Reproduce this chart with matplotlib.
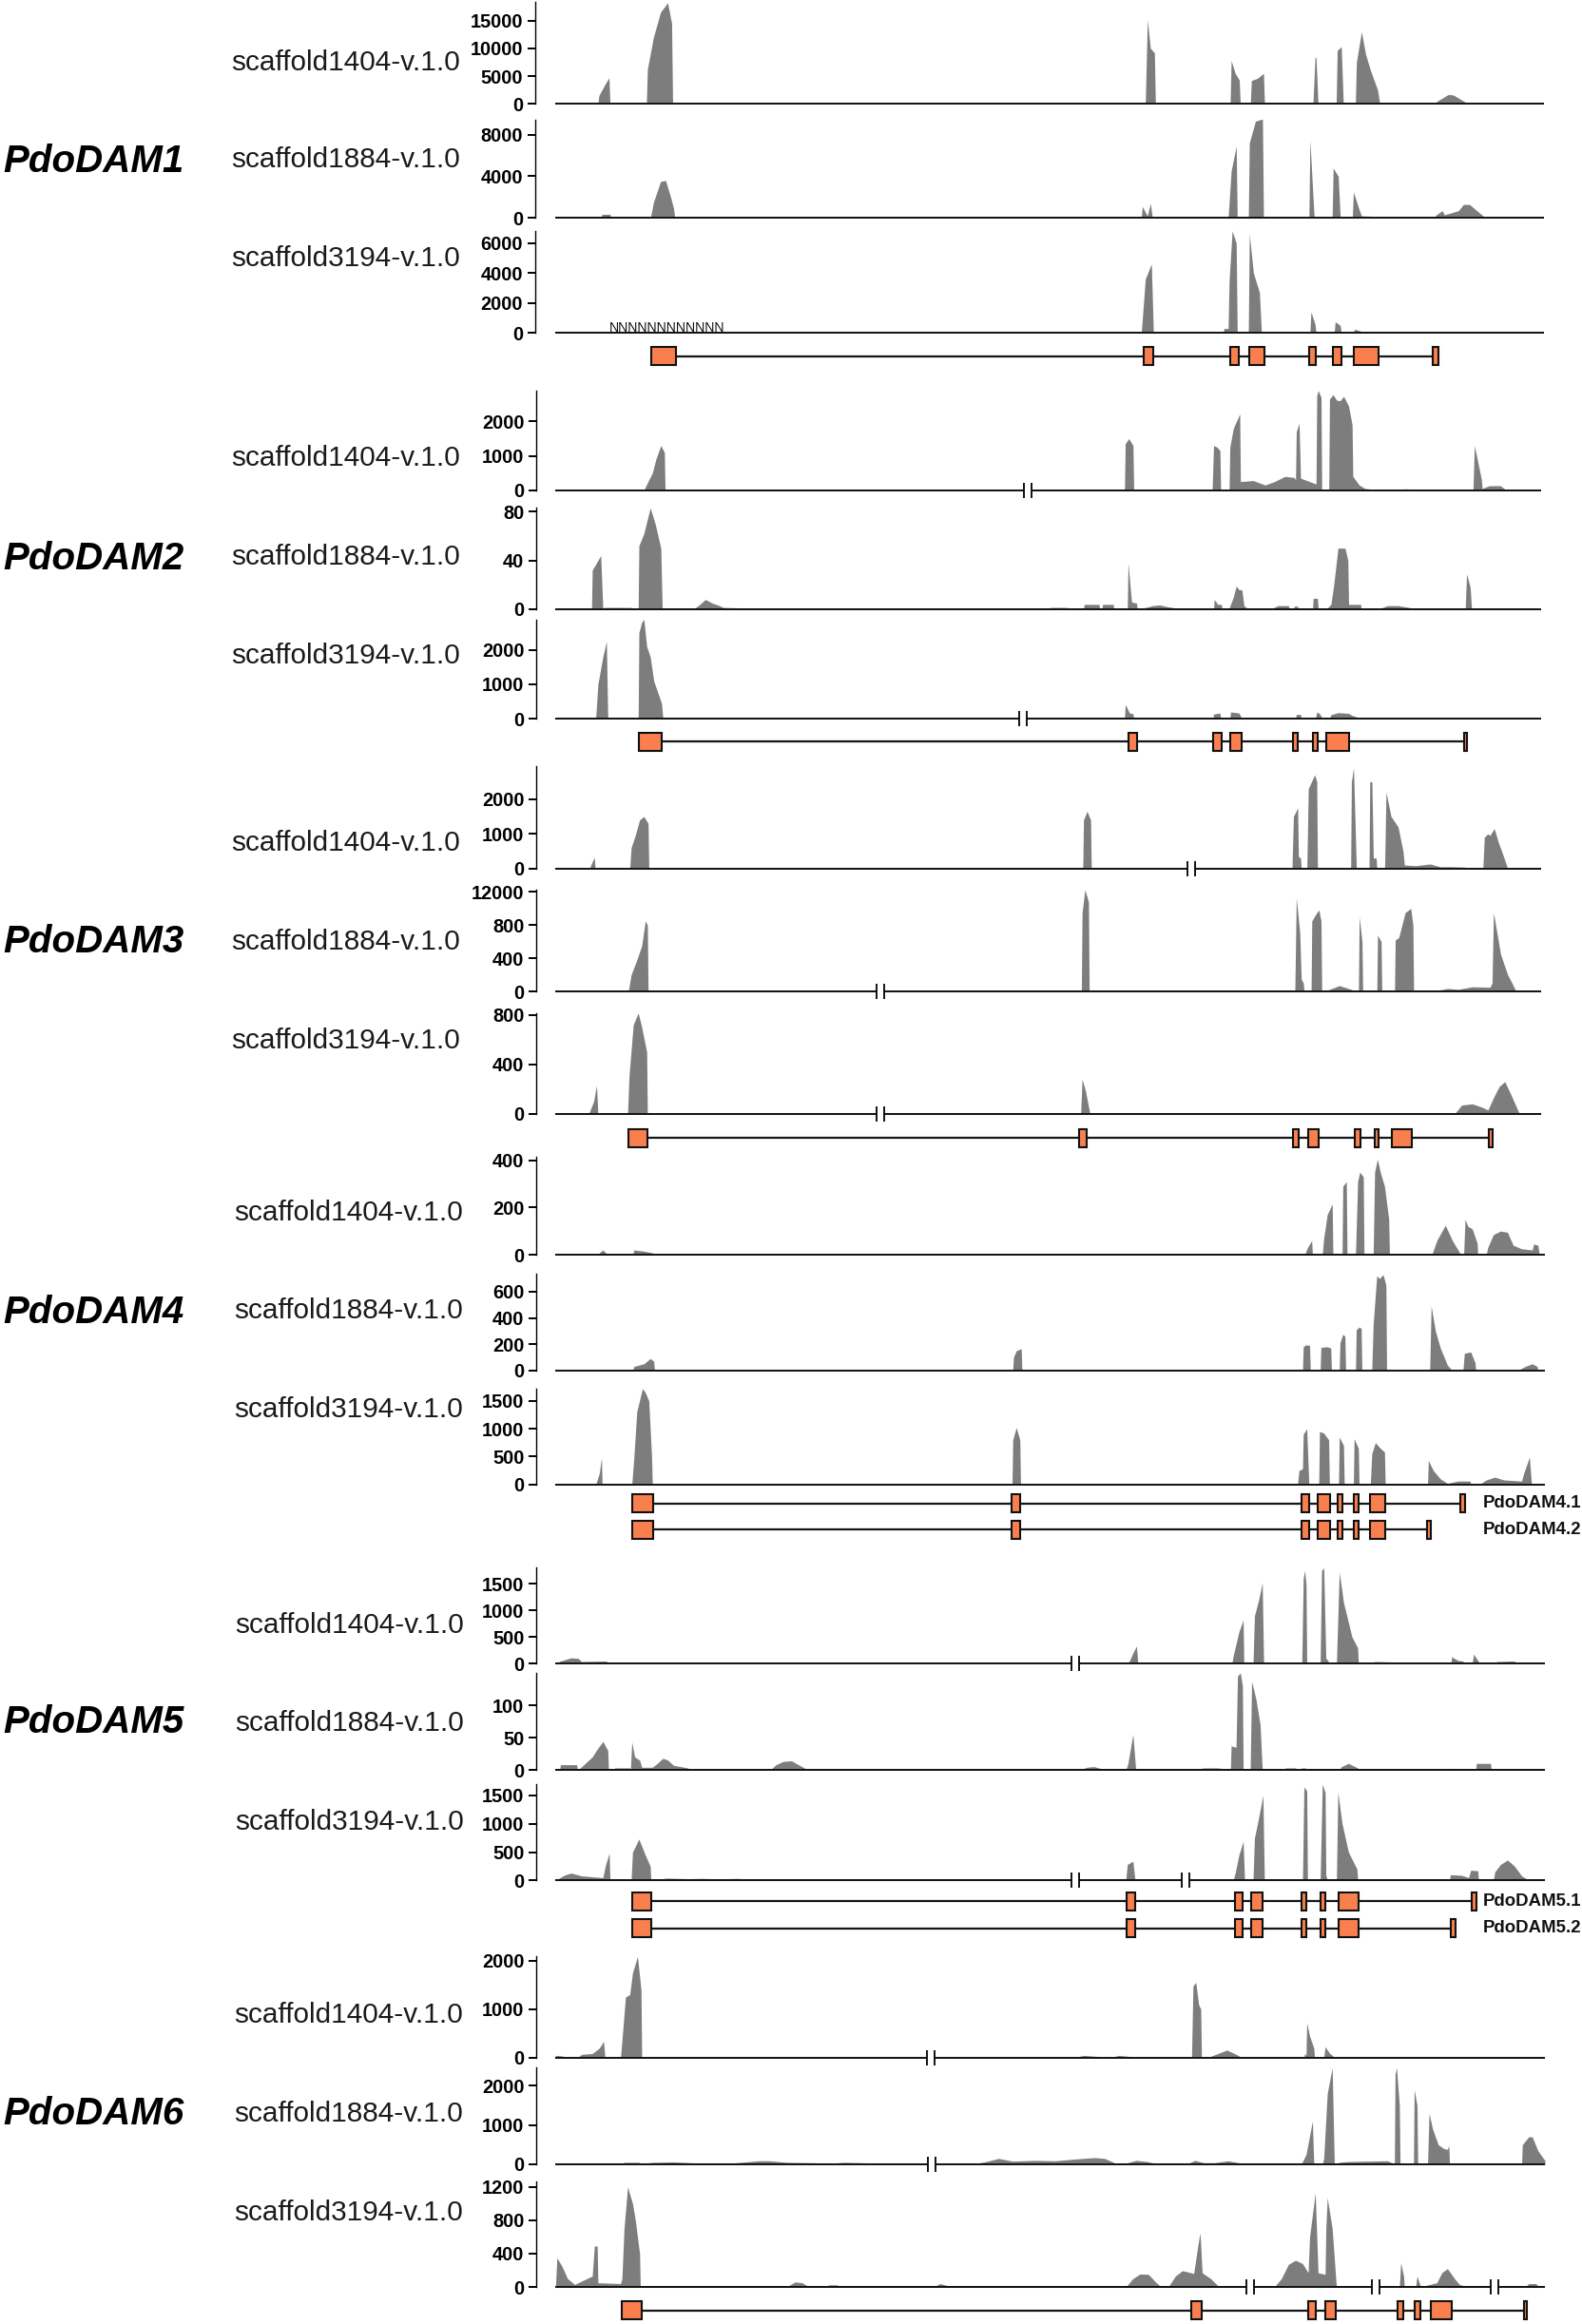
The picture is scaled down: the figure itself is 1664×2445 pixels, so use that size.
import matplotlib
matplotlib.use('Agg')
import matplotlib.pyplot as plt
import numpy as np
from matplotlib.patches import Rectangle

plt.rcParams['font.family'] = ['Liberation Sans', 'DejaVu Sans']

W, H = 1665, 2445

scaffolds = ['scaffold1404-v.1.0', 'scaffold1884-v.1.0', 'scaffold3194-v.1.0']
gene_names = ['PdoDAM1', 'PdoDAM2', 'PdoDAM3', 'PdoDAM4', 'PdoDAM5', 'PdoDAM6']

# coverage profiles, (position, coverage)
dam1_s1404 = [(593,0),(594,1500),(600,3500),(604,4700),(605,0),(641,0),(642,6200),(648,12000),(655,16500),(662,18200),(666,14500),(667,0),
    (1135,0),(1137,15200),(1140,10000),(1144,9200),(1145,0),(1215,0),(1216,100),(1219,100),(1220,7800),(1224,5500),(1228,4300),(1229,0),
    (1239,0),(1240,4200),(1246,4600),(1252,5500),(1253,0),(1301,0),(1303,8300),(1304,8400),(1306,0),(1324,0),(1325,9600),(1329,10300),(1331,200),(1340,100),
    (1343,0),(1344,7500),(1349,13000),(1353,9000),(1358,6000),(1365,2500),(1367,100),(1380,100),(1381,0),(1421,0),(1424,500),(1435,1700),(1440,1600),(1452,300),(1465,300),(1483,300),(1497,100),(1498,0)]
dam1_s1884 = [(596,0),(597,350),(605,350),(606,0),(645,0),(648,1500),(655,3500),(660,3600),(665,2000),(668,900),(669,100),(672,100),(673,0),
    (1131,0),(1132,1100),(1137,200),(1140,1400),(1142,0),(1217,0),(1220,4500),(1225,6900),(1226,0),(1237,0),(1238,7200),(1244,9300),(1251,9500),(1252,0),
    (1297,0),(1298,7500),(1302,300),(1303,0),(1320,0),(1321,4800),(1326,4000),(1328,0),(1340,0),(1341,2500),(1346,1000),(1349,200),(1365,150),(1366,0),
    (1421,0),(1423,300),(1429,700),(1431,300),(1445,700),(1450,1300),(1456,1300),(1462,800),(1470,150),(1473,0)]
dam1_s3194 = [(1131,0),(1135,3600),(1141,4600),(1143,0),(1212,0),(1213,300),(1217,300),(1218,3500),(1221,6800),(1225,6000),(1226,0),
    (1237,0),(1238,6600),(1242,4000),(1248,2700),(1250,0),(1298,0),(1299,1400),(1303,600),(1304,0),(1322,0),(1323,750),(1328,500),(1329,0),(1341,0),(1342,250),(1352,50),(1353,0)]

dam2_s1404 = [(238,0),(245,300),(250,500),(255,900),(262,1300),(267,1100),(268,0),(790,0),(795,30),(875,30),(876,0),(918,0),(919,1350),(924,1500),(930,1300),(931,0),
    (1042,0),(1044,1300),(1049,1250),(1053,1150),(1054,0),(1066,0),(1067,1250),(1072,1800),(1081,2220),(1082,250),(1100,280),(1117,150),(1130,250),(1145,400),(1158,370),
    (1160,300),(1161,1700),(1165,1950),(1167,350),(1189,180),(1190,2750),(1192,2900),(1196,2700),(1197,0),(1207,0),(1208,2650),(1213,2780),(1218,2620),(1223,2600),(1228,2730),(1235,2450),(1240,1900),(1241,400),(1250,150),(1258,50),(1275,10),
    (1300,10),(1315,40),(1340,10),(1355,30),(1405,30),(1411,0),(1413,1300),(1418,800),(1423,300),(1424,50),(1434,130),(1450,130),(1458,0)]
dam2_s1884 = [(164,0),(165,32),(170,37),(177,44),(180,0),(182,1.5),(220,1.5),(221,0),(230,0),(231,52),(238,62),(247,83),(254,70),(262,50),(264,0),
    (308,0),(315,3),(325,8),(335,5),(345,3),(350,1.5),(380,1),(381,0),(790,0),(791,1),(800,1),(801,0),(812,0),(813,1.5),(837,1.5),(838,0),
    (860,0),(861,4),(882,4),(883,0),(886,0),(887,4),(902,4),(903,0),(922,0),(923,38),(927,12),(928,6),(935,5),(936,0),(948,1.5),(958,3),(968,3.5),(980,2),(990,1),(991,0),
    (1044,0),(1045,8),(1050,4),(1055,4),(1056,0),(1066,1),(1072,10),(1076,19),(1080,16),(1084,16),(1087,3),(1091,1),(1092,0),
    (1128,1),(1135,3),(1150,3),(1151,0),(1157,0),(1158,2.5),(1163,2.5),(1164,0),(1184,0),(1185,9),(1191,9),(1192,0),
    (1205,1),(1210,4),(1214,20),(1220,50),(1230,50),(1234,40),(1235,4),(1252,4),(1253,0),(1281,1),(1290,3),(1305,3),(1325,1),(1326,0),(1400,0),(1402,29),(1407,18),(1409,0)]
dam2_s3194 = [(165,0),(170,50),(173,1000),(180,1800),(185,2250),(187,0),(230,0),(231,2500),(235,2800),(238,2880),(242,2100),(247,1800),(252,1100),(263,450),(265,0),
    (640,0),(650,20),(670,20),(671,0),(918,0),(919,420),(925,170),(930,150),(931,0),(1043,0),(1044,140),(1053,170),(1054,0),(1067,0),(1068,200),(1080,170),(1084,0),
    (1160,0),(1161,130),(1167,130),(1168,0),(1188,0),(1190,200),(1194,150),(1197,40),(1198,0),(1208,0),(1210,120),(1220,180),(1235,160),(1240,100),(1250,30),(1258,0)]

dam3_s1404 = [(161,0),(164,150),(168,320),(169,0),(218,0),(220,600),(225,900),(232,1400),(238,1500),(244,1300),(245,0),(859,0),(860,1400),(865,1650),(870,1400),(871,0),
    (1155,0),(1157,1500),(1163,1750),(1164,350),(1167,300),(1168,0),(1176,0),(1178,2300),(1187,2700),(1190,2500),(1191,0),(1238,0),(1239,2500),(1242,2900),(1246,0),
    (1264,0),(1265,2500),(1268,2500),(1270,300),(1274,300),(1275,0),(1286,0),(1288,2200),(1295,1500),(1305,1200),(1312,500),(1314,100),(1330,80),(1350,130),(1365,50),(1380,50),(1400,40),(1402,0),
    (1425,0),(1427,900),(1432,1000),(1435,950),(1441,1150),(1447,750),(1455,300),(1460,0)]
dam3_s1884 = [(216,0),(220,200),(228,380),(235,550),(240,850),(243,800),(244,0),(857,0),(858,950),(862,1226),(867,1080),(868,0),(1159,0),(1161,1130),(1166,700),(1168,150),(1171,100),(1172,0),
    (1182,0),(1183,850),(1190,950),(1193,980),(1196,850),(1197,0),(1200,0),(1210,30),(1222,70),(1240,20),(1244,0),(1249,0),(1250,900),(1254,600),(1255,0),(1258,0),(1259,10),(1270,10),(1271,0),
    (1275,0),(1276,680),(1281,600),(1282,0),(1300,0),(1301,620),(1306,650),(1315,950),(1323,1000),(1326,800),(1327,0),(1360,10),(1375,35),(1390,25),(1410,55),(1435,50),(1438,100),(1440,950),(1445,700),(1450,450),(1460,200),(1465,120),(1472,0)]
dam3_s3194 = [(160,0),(167,100),(171,230),(173,0),(215,0),(217,300),(223,720),(230,815),(235,700),(242,500),(243,0),(856,0),(858,280),(863,180),(868,30),(869,0),
    (1385,0),(1395,70),(1410,80),(1425,50),(1432,30),(1440,130),(1448,220),(1456,260),(1465,150),(1475,20),(1477,0)]

dam4_s1404 = [(172,0),(180,20),(185,5),(200,3),(201,0),(222,0),(224,20),(238,15),(250,8),(252,0),(290,0),(295,3),(310,3),(311,0),(498,0),(503,3),(518,3),(519,0),(762,0),(763,3),(775,3),(776,0),
    (1173,0),(1177,30),(1183,60),(1184,0),(1198,0),(1200,70),(1205,170),(1212,215),(1213,0),(1226,0),(1227,290),(1232,310),(1233,0),(1245,0),(1248,310),(1251,350),(1256,330),(1257,0),
    (1270,0),(1272,350),(1276,405),(1280,350),(1286,290),(1292,150),(1293,0),(1300,0),(1301,3),(1330,3),(1331,0),(1353,0),(1360,60),(1372,125),(1382,60),(1392,10),(1393,0),
    (1398,0),(1400,150),(1404,120),(1410,110),(1417,50),(1418,0),(1430,0),(1432,30),(1440,85),(1450,100),(1460,95),(1468,40),(1480,25),(1495,20),(1497,45),(1503,40),(1505,0)]
dam4_s1884 = [(222,0),(224,30),(238,50),(247,90),(252,70),(253,0),(760,0),(761,100),(765,150),(772,165),(773,0),(1160,0),(1165,10),(1170,0),(1171,180),(1175,195),(1180,190),(1181,0),
    (1195,0),(1196,175),(1205,180),(1210,170),(1211,0),(1222,0),(1223,210),(1227,275),(1230,260),(1231,0),(1245,0),(1246,310),(1250,330),(1253,320),(1254,0),
    (1268,0),(1270,350),(1275,720),(1279,700),(1284,730),(1288,650),(1289,0),(1350,0),(1352,490),(1358,300),(1365,170),(1375,40),(1380,10),(1381,0),(1397,0),(1399,130),(1408,140),(1414,60),(1415,10),(1420,0),
    (1475,0),(1485,30),(1495,50),(1502,30),(1503,0)]
dam4_s3194 = [(170,0),(175,200),(178,480),(179,0),(221,0),(224,500),(228,1300),(236,1720),(240,1650),(245,1500),(249,500),(250,0),(759,0),(760,800),(765,1020),(770,800),(771,0),(885,0),(890,20),(915,20),(916,0),
    (1163,0),(1165,250),(1170,280),(1171,900),(1176,1000),(1179,0),(1193,0),(1194,950),(1200,920),(1207,800),(1208,0),(1221,0),(1222,850),(1228,700),(1229,0),(1242,0),(1243,820),(1249,650),(1250,0),
    (1266,0),(1268,550),(1273,750),(1280,650),(1286,580),(1287,0),(1347,0),(1348,430),(1355,250),(1365,100),(1375,20),(1390,60),(1407,60),(1408,0),(1420,0),(1430,80),(1442,130),(1455,80),(1480,60),(1483,200),(1491,490),(1494,0)]

dam5_s1404 = [(113,0),(120,50),(135,110),(145,100),(150,40),(185,50),(187,0),(220,0),(222,30),(247,25),(248,0),(921,0),(925,50),(930,200),(935,330),(937,0),
    (1070,0),(1072,150),(1080,600),(1086,820),(1087,0),(1100,0),(1102,900),(1108,1200),(1113,1520),(1115,0),(1169,0),(1171,1600),(1173,1750),(1175,1500),(1176,0),
    (1195,0),(1197,1750),(1200,1800),(1203,100),(1206,60),(1207,0),(1218,0),(1222,1720),(1228,1150),(1240,500),(1248,300),(1249,0),(1265,0),(1272,40),(1340,20),(1345,0),
    (1380,0),(1381,130),(1390,60),(1397,50),(1398,0),(1410,0),(1412,180),(1419,40),(1420,0),(1442,0),(1445,40),(1470,50),(1471,0)]
dam5_s1884 = [(119,0),(120,8),(143,8),(144,0),(147,2),(155,10),(165,20),(172,32),(180,44),(187,30),(188,0),(196,0),(197,3),(218,3),(219,0),(221,43),(225,20),(232,15),(235,4),(250,4),(257,10),(265,18),(272,15),(280,7),(300,3),(305,0),
    (417,0),(425,8),(435,13),(447,14),(455,9),(465,3),(470,0),(855,0),(865,4),(875,5),(888,1),(890,0),(892,1.5),(915,1.5),(920,0),(923,10),(930,55),(934,0),(980,0),(981,2),(998,2),(999,0),
    (1020,1),(1030,3),(1050,3),(1065,1),(1068,0),(1069,37),(1076,35),(1078,145),(1082,150),(1085,130),(1086,1),(1096,0),(1098,137),(1104,110),(1110,70),(1113,1),(1130,1),(1131,0),
    (1145,0),(1146,3),(1160,3),(1161,0),(1168,0),(1169,3),(1174,3),(1175,0),(1222,0),(1225,5),(1235,10),(1248,3),(1250,0),(1380,0),(1382,3),(1384,0),(1415,0),(1416,10),(1436,10),(1437,0)]
dam5_s3194 = [(113,0),(125,90),(135,130),(150,80),(178,50),(180,50),(184,280),(189,480),(190,20),(205,20),(206,0),(220,0),(222,500),(231,730),(240,450),(247,250),(248,0),
    (250,0),(270,40),(300,30),(320,35),(345,25),(370,35),(390,20),(420,10),(470,25),(520,5),(521,0),(920,0),(922,280),(930,340),(933,0),(1072,0),(1075,150),(1080,450),(1086,690),(1088,0),
    (1100,0),(1102,750),(1107,1050),(1114,1500),(1116,0),(1170,0),(1172,1650),(1176,1580),(1177,0),(1195,0),(1198,1700),(1202,1550),(1203,100),(1205,0),
    (1218,0),(1220,1560),(1226,1000),(1235,500),(1247,200),(1248,0),(1265,0),(1266,20),(1338,20),(1339,0),(1378,0),(1379,100),(1395,90),(1405,50),(1408,180),(1418,170),(1419,0),
    (1440,0),(1442,150),(1450,280),(1460,360),(1470,250),(1480,80),(1488,20),(1490,0)]

dam6_s1404 = [(113,50),(123,40),(125,0),(143,0),(150,70),(165,90),(175,200),(181,340),(183,0),(205,0),(207,350),(212,1250),(218,1300),(222,1750),(229,2085),(234,1400),(235,0),
    (845,0),(860,50),(880,30),(885,0),(895,0),(910,50),(925,30),(930,0),(1013,0),(1015,1480),(1019,1550),(1023,1100),(1026,1000),(1027,0),(1035,0),(1045,60),(1063,160),(1075,80),(1085,0),
    (1172,0),(1173,90),(1175,50),(1176,720),(1180,450),(1186,200),(1187,0),(1200,0),(1202,230),(1208,100),(1216,0),(1303,0),(1304,20),(1306,20),(1307,0)]
dam6_s1884 = [(208,0),(210,50),(230,50),(238,20),(250,50),(280,60),(305,40),(350,10),(400,90),(415,90),(440,50),(480,40),(500,20),(520,50),(575,30),(580,0),
    (700,0),(720,60),(740,150),(760,80),(790,100),(820,90),(845,130),(875,170),(890,150),(905,30),(908,0),(920,30),(935,100),(950,70),(965,10),(966,0),(1005,0),(1018,100),(1030,40),(1045,40),(1065,90),(1085,20),(1086,0),
    (1168,0),(1175,250),(1184,1100),(1186,0),(1198,0),(1200,150),(1205,1800),(1212,2460),(1215,0),(1222,50),(1235,70),(1290,90),(1299,20),(1300,0),(1301,2300),(1303,2460),(1307,1500),(1308,0),
    (1327,0),(1328,1900),(1332,1500),(1333,0),(1347,0),(1349,1300),(1354,900),(1362,500),(1370,400),(1375,380),(1377,480),(1378,0),(1480,0),(1481,500),(1490,700),(1495,700),(1503,350),(1510,170),(1513,100)]
dam6_s3194 = [(113,0),(115,350),(122,250),(130,100),(140,30),(150,70),(165,130),(168,490),(172,490),(173,50),(205,40),(207,100),(210,700),(215,1200),(222,1000),(226,800),(232,400),(233,0),
    (258,0),(259,10),(270,10),(271,0),(440,0),(452,60),(462,50),(470,10),(475,0),(493,0),(500,25),(512,25),(513,0),(648,0),(657,40),(670,10),(672,0),(920,0),(930,100),(940,155),(952,150),(962,60),(970,0),
    (980,0),(990,130),(1000,195),(1012,170),(1016,160),(1022,500),(1025,650),(1028,170),(1040,100),(1052,0),(1130,0),(1140,100),(1150,270),(1160,320),(1170,280),(1178,170),(1180,600),(1188,1130),(1192,170),(1202,150),(1203,700),(1205,1070),(1212,700),(1217,100),(1218,0),
    (1307,0),(1309,290),(1313,130),(1314,0),(1330,0),(1332,130),(1336,30),(1337,0),(1350,30),(1360,50),(1367,170),(1375,220),(1385,100),(1392,30),(1400,10),(1405,0),(1485,0),(1490,40),(1500,40),(1505,0)]

# y axis tops and tick labels for every track
dam1_tops = [18400, 9430, 6780]
dam2_tops = [2903, 83, 2880]
dam3_tops = [2950, 1226, 815]
dam4_tops = [415, 737, 1722]
dam5_tops = [1803, 150, 1696]
dam6_tops = [2085, 2460, 1265]
dam1_ticks = [[0,5000,10000,15000], [0,4000,8000], [0,2000,4000,6000]]
dam2_ticks = [[0,1000,2000], [0,40,80], [0,1000,2000]]
dam3_ticks = [[0,1000,2000], [0,400,800,1200], [0,400,800]]
dam4_ticks = [[0,200,400], [0,200,400,600], [0,500,1000,1500]]
dam5_ticks = [[0,500,1000,1500], [0,50,100], [0,500,1000,1500]]
dam6_ticks = [[0,1000,2000], [0,1000,2000], [0,400,800,1200]]

# exon start/end per transcript
dam1_exons = [(646,670),(1133,1143),(1219,1228),(1238,1253),(1297,1304),(1321,1329),(1341,1366),(1420,1425)]
dam2_exons = [(231,263),(923,936),(1043,1055),(1067,1084),(1156,1163),(1184,1191),(1203,1236),(1399,1403)]
dam3_exons = [(216,243),(854,865),(1156,1165),(1178,1192),(1244,1252),(1272,1278),(1296,1324),(1433,1439)]
dam41_exons = [(221,251),(758,770),(1169,1179),(1192,1209),(1220,1227),(1243,1250),(1265,1287),(1393,1400)]
dam42_exons = [(221,251),(758,770),(1169,1179),(1192,1209),(1220,1227),(1243,1250),(1265,1287),(1346,1352)]
dam51_exons = [(221,248),(921,933),(1075,1085),(1097,1114),(1168,1175),(1195,1202),(1221,1249),(1410,1416)]
dam52_exons = [(221,248),(921,933),(1075,1085),(1097,1114),(1168,1175),(1195,1202),(1221,1249),(1380,1386)]
dam6_exons = [(207,235),(1013,1027),(1178,1189),(1202,1217),(1304,1312),(1329,1337),(1351,1381),(1483,1488)]

# scaffold gaps drawn on the baseline
dam2_breaks = [[781], [], [775]]
dam3_breaks = [[1012], [573], [573]]
dam5_breaks = [[849], [], [849, 1004]]
dam6_breaks = [[644], [645], [1096, 1274, 1442]]

COVER = '#7d7d7d'
EXON = '#F9804E'

fig = plt.figure(figsize=(W / 100, H / 100), dpi=100)


def px_axes(left, right, top, bottom):
    return fig.add_axes([left / W, 1 - bottom / H, (right - left) / W, (bottom - top) / H])


def px_text(x, y, s, **kw):
    return fig.text(x / W, 1 - y / H, s, va='center', **kw)


def draw_track(box, x0, x1, line_start, line_end, prof, top, ticks, breaks, tick_labels=None):
    ax = px_axes(box[0], box[1], box[2], box[3])
    xs, ys = np.array(prof, dtype=float).T
    ax.fill_between(xs, 0, ys, color=COVER, lw=0)
    ax.set_xlim(x0, x1)
    ax.set_ylim(0, top)
    ax.hlines(0, line_start, line_end, color='#151515', lw=1.45, clip_on=False, zorder=3)
    for s in ['top', 'right', 'bottom']:
        ax.spines[s].set_visible(False)
    ax.spines['left'].set_linewidth(1.0)
    ax.set_xticks([])
    ax.set_yticks(ticks)
    ax.set_yticklabels(tick_labels if tick_labels else [str(t) for t in ticks], fontsize=14.4, fontweight='bold')
    ax.tick_params(axis='y', length=5.8, width=1.4, pad=3.5)
    ax.patch.set_visible(False)
    # gap marks
    frac = 8.0 / (box[3] - box[2])
    tr = ax.get_xaxis_transform()
    gap = (x1 - x0) / (box[1] - box[0]) * 4
    for b in breaks:
        ax.add_patch(Rectangle((b - gap, -frac), 2 * gap, 2 * frac, transform=tr, fc='white', ec='none', clip_on=False, zorder=4))
        ax.vlines([b - gap, b + gap], -frac, frac, transform=tr, color='black', lw=1.3, clip_on=False, zorder=5)
    return ax


def draw_gene(y, left, right, x0, x1, exons, label=None):
    ax = px_axes(left, right, y - 10, y + 10)
    ax.set_xlim(x0, x1)
    ax.set_ylim(0, 1)
    ax.axis('off')
    ax.hlines(0.5, exons[0][0], exons[-1][1], color='#151515', lw=1.6, zorder=1)
    for a, b in exons:
        ax.add_patch(Rectangle((a, 0.03), b - a, 0.94, fc=EXON, ec='#111111', lw=1.5, zorder=2, clip_on=False))
    if label:
        px_text(1560, y, label, fontsize=13.4, fontweight='bold', color='#111111')


# layout: baseline, axis top of every track, gene rows, label rows, x range of the group
groups = [
    dict(name=0, xr=(531, 1530), left=563, right=1624.3, line=(551, 1530), base=[109.3, 229.3, 350.3], top=[1.7, 126, 243.3], label_x=243,
         profs=[dam1_s1404, dam1_s1884, dam1_s3194], tops=dam1_tops, ticks=dam1_ticks, breaks=[[], [], []],
         genes=[(374.6, dam1_exons, None)], labels=[65.5, 168.5, 271.5], name_y=170),
    dict(name=1, xr=(86, 1507), left=564.2, right=1620.7, line=(113, 1507), base=[515.7, 641, 756.3], top=[410.7, 534.3, 651.7], label_x=243,
         profs=[dam2_s1404, dam2_s1884, dam2_s3194], tops=dam2_tops, ticks=dam2_ticks, breaks=dam2_breaks,
         genes=[(780.3, dam2_exons, None)], labels=[482.5, 586.5, 690.5], name_y=588),
    dict(name=2, xr=(86, 1507), left=564.2, right=1620.7, line=(113, 1507), base=[913.7, 1043, 1171.7], top=[806, 936, 1065.7], label_x=243,
         profs=[dam3_s1404, dam3_s1884, dam3_s3194], tops=dam3_tops, ticks=dam3_ticks, breaks=dam3_breaks,
         genes=[(1197.3, dam3_exons, None)], labels=[887, 991, 1095], name_y=991),
    dict(name=3, xr=(86, 1513), left=564.2, right=1625, line=(113, 1513), base=[1320, 1441.7, 1561.7], top=[1217, 1340, 1460.7], label_x=246,
         profs=[dam4_s1404, dam4_s1884, dam4_s3194], tops=dam4_tops, ticks=dam4_ticks, breaks=[[], [], []],
         genes=[(1581.7, dam41_exons, 'PdoDAM4.1'), (1609.3, dam42_exons, 'PdoDAM4.2')], labels=[1276, 1379, 1483], name_y=1381),
    dict(name=4, xr=(86, 1513), left=564.2, right=1625, line=(113, 1513), base=[1750.3, 1862, 1978.3], top=[1649.3, 1760, 1877.3], label_x=247,
         profs=[dam5_s1404, dam5_s1884, dam5_s3194], tops=dam5_tops, ticks=dam5_ticks, breaks=dam5_breaks,
         genes=[(2000.3, dam51_exons, 'PdoDAM5.1'), (2028.7, dam52_exons, 'PdoDAM5.2')], labels=[1710, 1813, 1917], name_y=1812),
    dict(name=5, xr=(86, 1513), left=564.2, right=1625, line=(113, 1513), base=[2165, 2277, 2406], top=[2058.3, 2175.3, 2295], label_x=246,
         profs=[dam6_s1404, dam6_s1884, dam6_s3194], tops=dam6_tops, ticks=dam6_ticks, breaks=dam6_breaks,
         genes=[(2430.5, dam6_exons, None)], labels=[2120, 2224, 2328], name_y=2224),
]

for g_idx, g in enumerate(groups):
    x0, x1 = g['xr']
    for t in range(3):
        lab = None
        if g_idx == 2 and t == 1:
            lab = ['0', '400', '800', '12000']  # the figure really prints 12000 here
        draw_track((g['left'], g['right'], g['top'][t], g['base'][t]), x0, x1, g['line'][0], g['line'][1],
                   g['profs'][t], g['tops'][t], g['ticks'][t], g['breaks'][t], lab)
        px_text(g['label_x'], g['labels'][t], scaffolds[t], fontsize=21.4, color='#1a1a1a')
    for y, exons, label in g['genes']:
        draw_gene(y, g['left'], g['right'], x0, x1, exons, label)
    px_text(3.5, g['name_y'], gene_names[g['name']], fontsize=29, fontweight='bold', fontstyle='italic', color='black')

px_text(641, 345, 'NNNNNNNNNNNN', fontsize=10.2, color='#111111')

fig.savefig('out.png', dpi=100)
